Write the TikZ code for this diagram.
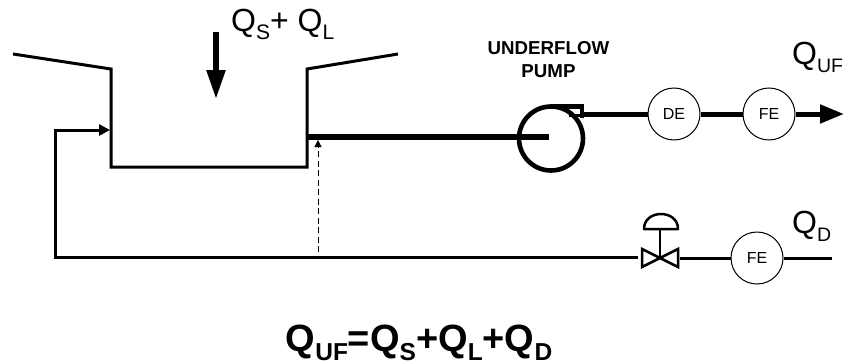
\documentclass[tikz,border=0pt]{standalone}
\usepackage{fontspec}
\setmainfont{Liberation Sans}
\usetikzlibrary{arrows.meta,calc}
\newcommand{\subt}[1]{\raisebox{-8pt}{\fontsize{21}{24}\selectfont #1}}
\newcommand{\subr}[1]{\raisebox{-8pt}{\fontsize{19.5}{24}\selectfont #1}}
\newcommand{\subb}[1]{\raisebox{-9pt}{\fontsize{24.5}{28}\selectfont #1}}
\tikzset{
  instr/.style={circle,draw=black,line width=1pt,fill=white,minimum size=52pt,inner sep=0pt,font=\fontsize{16}{18}\selectfont},
  pipe/.style={line width=3pt,line join=miter},
  thickpipe/.style={line width=5pt},
  lab/.style={inner sep=0pt,font=\fontsize{32}{36}\selectfont,anchor=base west},
  pumptxt/.style={font=\fontsize{18.7}{23}\selectfont\bfseries,align=center,inner sep=0pt}
}
\begin{document}
\begin{tikzpicture}[x=1pt,y=-1pt]
\useasboundingbox (0,0) rectangle (844,364);
\coordinate (tl) at (13,54); \coordinate (tl2) at (111,69); \coordinate (bl) at (111,167);
\coordinate (br) at (307,167); \coordinate (tr2) at (307,69); \coordinate (tr) at (398,54);
\coordinate (outlet) at (307,137); \coordinate (eye) at (549,137);
\coordinate (pumpc) at (551,138.5); \coordinate (disch) at (581,114);
\coordinate (rc1) at (55,257); \coordinate (rc2) at (55,130); \coordinate (inlet) at (110,130);
\coordinate (tap) at (318,252); \coordinate (tapend) at (318,140);
\coordinate (vc) at (660,258); \coordinate (stem) at (660,230);
\coordinate (feedA) at (216,32); \coordinate (feedB) at (216,99);
\coordinate (ufend) at (844,114); \coordinate (dend) at (832,258);
% tank
\draw[pipe] (tl) -- (tl2) -- (bl) -- (br) -- (tr2) -- (tr);
% feed arrow
\draw[line width=5.5pt,-{Triangle[length=29pt,width=18pt]}] (feedA) -- (feedB);
% pump suction
\draw[line width=5.5pt] (outlet) -- (eye);
% pump
\draw[line width=4.6pt] (pumpc) circle[radius=32pt];
\draw[line width=4.6pt,line join=miter] (551,106.5) -- (582,106.5) -- (582,118);
\draw[line width=3pt] (569,115) -- (582,115);
% instruments
\node[instr] (de) at (674,114) {DE};
\node[instr] (fe1) at (769,114) {FE};
\node[instr] (fe2) at (757,258) {FE};
\draw[thickpipe] (disch) -- (de);
\draw[thickpipe] (de) -- (fe1);
\draw[thickpipe,-{Triangle[length=24pt,width=18pt]}] (fe1) -- (ufend);
% recirc
\draw[pipe,-{Triangle[length=11pt,width=11pt]}] (638,257) -- (rc1) -- (rc2) -- (inlet);
% dashed
\draw[line width=1pt,dash pattern=on 6pt off 3.5pt,-{Triangle[length=7pt,width=7pt]}] (tap) -- (tapend);
% valve
\draw[line width=2.5pt,line join=miter] (660,258) -- (642,249) -- (642,267) -- cycle;
\draw[line width=2.5pt,line join=miter] (660,258) -- (678,249) -- (678,267) -- cycle;
\draw[line width=2.5pt] (vc) -- (stem);
\draw[line width=2.5pt,line join=round] (644,229) .. controls (644,209) and (678,209) .. (678,229) -- cycle;
\draw[pipe] (680,258) -- (fe2);
\draw[pipe] (fe2) -- (dend);
% labels
\node[lab] (qs) at (231,31) {Q\subt{S}+ Q\subt{L}};
\node[lab] (quf) at (792,64) {Q\subr{UF}};
\node[lab] (qd) at (792,233) {Q\subr{D}};
\node[pumptxt] (pumplab) at (548.5,59.5) {UNDERFLOW\\PUMP};
\node[lab,font=\fontsize{38}{42}\selectfont\bfseries,anchor=base] (eq) at (419,351) {Q\subb{UF}=Q\subb{S}+Q\subb{L}+Q\subb{D}};
\end{tikzpicture}
\end{document}
